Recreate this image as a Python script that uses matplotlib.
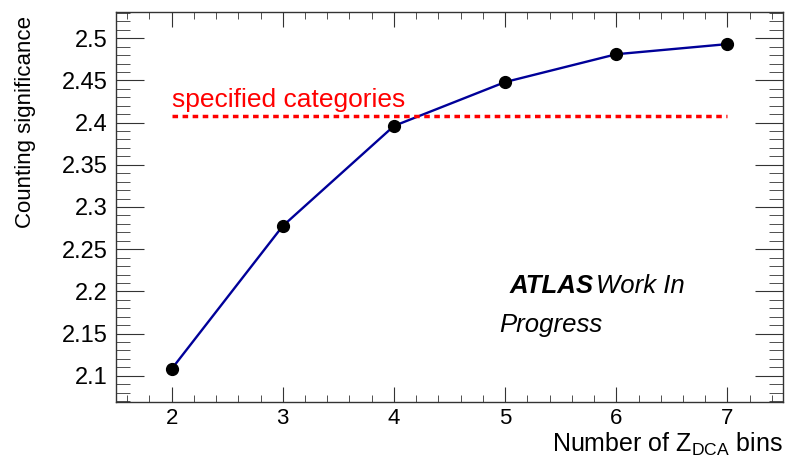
import matplotlib
matplotlib.use("Agg")
import matplotlib.pyplot as plt
from matplotlib.ticker import MultipleLocator

plt.rcParams['font.family'] = ['Liberation Sans', 'DejaVu Sans']
plt.rcParams['mathtext.fontset'] = 'custom'
plt.rcParams['mathtext.rm'] = 'Liberation Sans'

# Données
n_bins = [2, 3, 4, 5, 6, 7]
significance = [2.108, 2.2775, 2.396, 2.448, 2.481, 2.493]
specified_level = 2.408
specified_range = [2, 7]
y_ticks = [2.1, 2.15, 2.2, 2.25, 2.3, 2.35, 2.4, 2.45, 2.5]
y_tick_labels = ['2.1', '2.15', '2.2', '2.25', '2.3', '2.35', '2.4', '2.45', '2.5']

fig = plt.figure(figsize=(7.88, 4.57), dpi=100)
ax = fig.add_axes([0.1472, 0.1204, 0.8465, 0.8533])

ax.plot(n_bins, significance, color='#000099', linewidth=1.7, zorder=2)
ax.plot(n_bins, significance, 'o', color='black', markersize=8.5, zorder=3)

# Ligne des catégories spécifiées
ax.plot(specified_range, [specified_level, specified_level], color='red',
        linestyle=(0, (1.6, 1.3)), linewidth=2.5)
ax.text(2.0, 2.4185, 'specified categories', color='red', fontsize=19, va='baseline')

# Label ATLAS
ax.text(5.04, 2.198, 'ATLAS', fontsize=18.5, fontweight='bold', fontstyle='italic', va='baseline')
ax.text(5.82, 2.198, 'Work In', fontsize=18.5, fontstyle='italic', va='baseline')
ax.text(4.95, 2.152, 'Progress', fontsize=18.5, fontstyle='italic', va='baseline')

ax.set_xlim(1.5, 7.5)
ax.set_ylim(2.069, 2.531)

ax.xaxis.set_major_locator(MultipleLocator(1))
ax.xaxis.set_minor_locator(MultipleLocator(0.2))
ax.yaxis.set_minor_locator(MultipleLocator(0.01))
ax.set_yticks(y_ticks)
ax.set_yticklabels(y_tick_labels)

ax.tick_params(axis='both', which='both', direction='in', top=True, right=True,
               color='#333333')
ax.tick_params(axis='x', which='major', length=11, pad=4, labelsize=16)
ax.tick_params(axis='x', which='minor', length=5)
ax.tick_params(axis='y', which='major', length=20, pad=6, labelsize=17)
ax.tick_params(axis='y', which='minor', length=10)
for s in ax.spines.values():
    s.set_color('#333333')
    s.set_linewidth(1.0)

ax.set_ylabel('Counting significance', fontsize=16, loc='top')
ax.yaxis.set_label_coords(-0.12, 0.99)
ax.set_xlabel(r'Number of Z$_{\mathrm{DCA}}$ bins', fontsize=18, loc='right')
ax.xaxis.set_label_coords(1.0, -0.073)

fig.savefig('out.png', dpi=100)
